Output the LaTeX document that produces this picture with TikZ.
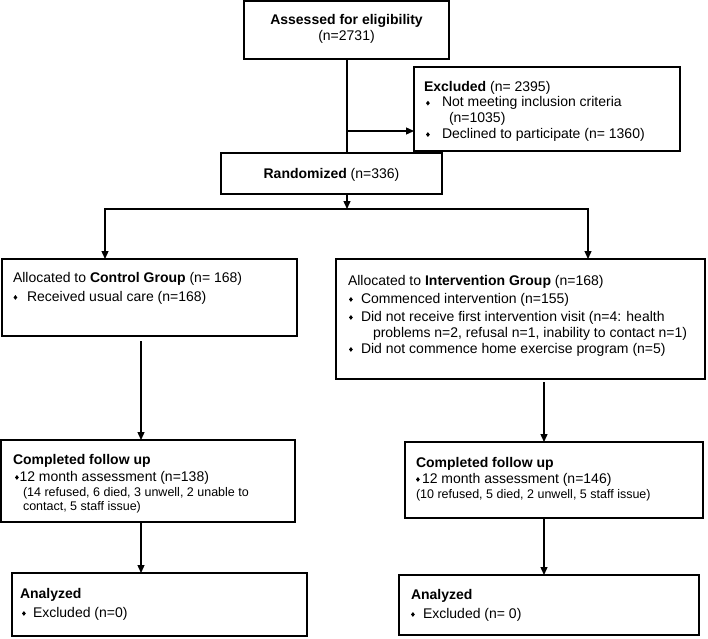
\documentclass[tikz,border=0pt]{standalone}
\usepackage{fontspec}
\setmainfont{Liberation Sans}
\usetikzlibrary{arrows.meta}
\newcommand\dmd{\tikz[baseline={(0pt,-3.7pt)}]\fill[black] (0pt,2.4pt)--(1.9pt,0pt)--(0pt,-2.4pt)--(-1.9pt,0pt)--cycle;}
\newcommand\bitem[2]{\makebox[#1][l]{\hspace{#2}\dmd}}
\newcommand\smalltxt{\fontsize{12.5}{14}\selectfont}
\begin{document}
\begin{tikzpicture}[x=1pt,y=-1pt,
  box/.style={draw=black,line width=1.3pt,rectangle,inner sep=0pt,outer sep=0pt,anchor=north west},
  txt/.style={inner sep=0pt,outer sep=0pt,anchor=north west,align=left,font=\fontsize{14}{16}\selectfont},
  ctxt/.style={inner sep=0pt,outer sep=0pt,anchor=north,align=center,font=\fontsize{14}{16}\selectfont},
  conn/.style={line width=1.3pt},
  arr/.style={conn,-{Triangle[length=8pt,width=7pt]}}]
\useasboundingbox (0,0) rectangle (708,638);
% boxes
\node[box,minimum width=205pt,minimum height=58pt] (assess) at (244,1) {};
\node[box,minimum width=266pt,minimum height=84pt] (excl) at (414,67) {};
\node[box,minimum width=221pt,minimum height=41pt] (rand) at (221,153) {};
\node[box,minimum width=295pt,minimum height=77pt] (ctrl) at (2,259) {};
\node[box,minimum width=369pt,minimum height=120pt] (intv) at (336,259) {};
\node[box,minimum width=294pt,minimum height=82pt] (comp1) at (1,440) {};
\node[box,minimum width=298pt,minimum height=76pt] (comp2) at (405,442) {};
\node[box,minimum width=295pt,minimum height=63pt] (an1) at (12,573) {};
\node[box,minimum width=300pt,minimum height=60pt] (an2) at (399,575) {};
% texts
\node[ctxt] (assesst) at (346.5,14) {\textbf{Assessed for eligibility}\\(n=2731)};
\node[txt,font=\fontsize{14}{15.7}\selectfont] (exclt) at (424,81) {\textbf{Excluded} (n= 2395)\\
\bitem{18pt}{2pt}Not meeting inclusion criteria\\
\hspace{25pt}(n=1035)\\
\bitem{18pt}{2pt}Declined to participate (n= 1360)};
\node[ctxt] (randt) at (331.5,168) {\textbf{Randomized} (n=336)};
\node[txt,font=\fontsize{14}{19}\selectfont] (ctrlt) at (13,272) {Allocated to \textbf{Control Group} (n= 168)\\
\bitem{14pt}{0.5pt}Received usual care (n=168)};
\node[txt] (intvt) at (348,275) {Allocated to \textbf{Intervention Group} (n=168)\\[2pt]
\bitem{13pt}{1pt}Commenced intervention (n=155)\\[2pt]
\bitem{13pt}{1pt}Did not receive first intervention visit (n=4: health\\
\hspace{25pt}problems n=2, refusal n=1, inability to contact n=1)\\
\bitem{13pt}{1pt}Did not commence home exercise program (n=5)};
\node[txt,font=\fontsize{14}{15}\selectfont] (comp1t) at (13,454) {\textbf{Completed follow up}\\[2pt]
\bitem{6.5pt}{2pt}12 month assessment (n=138)\\
\hspace{10pt}{\smalltxt(14 refused, 6 died, 3 unwell, 2 unable to}\\[-1pt]
\hspace{10pt}{\smalltxt contact, 5 staff issue)}};
\node[txt,font=\fontsize{14}{15}\selectfont] (comp2t) at (416,457) {\textbf{Completed follow up}\\[1pt]
\bitem{6pt}{0pt}12 month assessment (n=146)\\
{\smalltxt(10 refused, 5 died, 2 unwell, 5 staff issue)}};
\node[txt,font=\fontsize{14}{19}\selectfont] (an1t) at (20,588) {\textbf{Analyzed}\\
\bitem{13pt}{2pt}Excluded (n=0)};
\node[txt,font=\fontsize{14}{19}\selectfont] (an2t) at (411,589) {\textbf{Analyzed}\\
\bitem{12pt}{0pt}Excluded (n= 0)};
% connectors
\coordinate (sx) at (347,131);
\coordinate (sp) at (347,209);
\coordinate (sl) at (105,209);
\coordinate (sr) at (588,209);
\coordinate (cl) at (141,341);
\coordinate (cr) at (544,383);
\draw[conn] (sx |- assess.south) -- (sx |- rand.north);
\draw[arr] (sx) -- (sx -| excl.west);
\draw[arr] (sp |- rand.south) -- (sp);
\draw[arr] (sp) -| (sl |- ctrl.north);
\draw[arr] (sp) -| (sr |- intv.north);
\draw[arr] ([yshift=-5pt]cl |- ctrl.south) -- (cl |- comp1.north);
\draw[arr] ([yshift=-3pt]cr |- intv.south) -- (cr |- comp2.north);
\draw[arr] (cl |- comp1.south) -- (cl |- an1.north);
\draw[arr] (cr |- comp2.south) -- (cr |- an2.north);
\end{tikzpicture}
\end{document}
